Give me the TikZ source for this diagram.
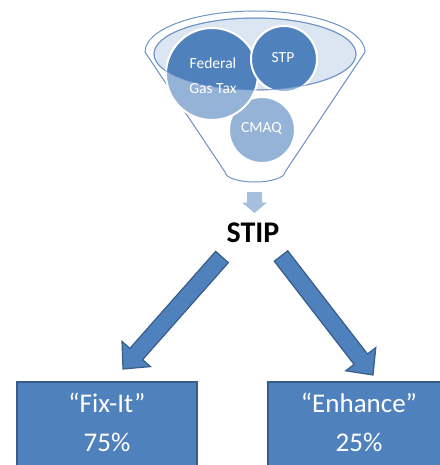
\documentclass[tikz,border=0pt]{standalone}
\usepackage{fontspec}
\setmainfont{Carlito}
\usetikzlibrary{calc}
\definecolor{dkblue}{HTML}{4F81BD}
\definecolor{ltblue}{HTML}{95B3D7}
\definecolor{paleblue}{HTML}{DCE6F2}
\definecolor{edgeblue}{HTML}{385D8A}
\definecolor{arrowlt}{HTML}{A7BFDE}
\definecolor{rimblue}{HTML}{6F93C6}
\tikzset{
  rimline/.style={draw=rimblue, line width=1pt},
  circlight/.style={fill=ltblue, draw=white, line width=2pt},
  circdark/.style={fill=dkblue, draw=white, line width=2pt},
  circtext/.style={text=white, font=\fontsize{15.5}{25}\selectfont, align=center, inner sep=0pt},
  bigarrow/.style={fill=dkblue, draw=edgeblue, line width=1.2pt, line join=miter},
  boxstyle/.style={fill=dkblue, draw=edgeblue, line width=2pt},
  boxtext/.style={text=white, font=\fontsize{27}{39}\selectfont, align=center, inner sep=0pt},
  stiptext/.style={font=\fontsize{30}{36}\selectfont\bfseries, inner sep=0pt}
}
\newcommand{\blockarrow}[2]{%
  \coordinate (h) at ($(#2)!20pt!(#1)$);
  \path[bigarrow] ($(#1)!8.5pt!90:(#2)$) -- ($(h)!8.5pt!90:(#2)$) -- ($(h)!19pt!90:(#2)$)
    -- (#2) -- ($(h)!19pt!-90:(#2)$) -- ($(h)!8.5pt!-90:(#2)$) -- ($(#1)!8.5pt!-90:(#2)$) -- cycle;
}
\begin{document}
\begin{tikzpicture}[x=1pt,y=-1pt]
\useasboundingbox (0,0) rectangle (439,465);
% funnel body
\path[fill=white, rimline] (145,52) arc[start angle=180, end angle=360, x radius=110, y radius=41]
  -- (285,172) arc[start angle=0, end angle=180, x radius=30, y radius=10] -- cycle;
% inner ellipse
\path[fill=paleblue, rimline] (255,54) ellipse[x radius=101, y radius=36];
% circle centres
\coordinate (cC) at (262,130);
\coordinate (cF) at (212,74);
\coordinate (cS) at (284,59);
% light pass
\path[circlight] (cC) circle[radius=33];
\path[circlight] (cF) circle[radius=46];
\path[circlight] (cS) circle[radius=33];
% dark pass inside the funnel mouth
\begin{scope}
  \clip (255,54) ellipse[x radius=101, y radius=36];
  \path[circdark] (cC) circle[radius=33];
  \path[circdark] (cF) circle[radius=46];
  \path[circdark] (cS) circle[radius=33];
\end{scope}
\draw[draw=rimblue, line width=0.8pt, opacity=0.7] (255,54) ellipse[x radius=101, y radius=36];
% circle labels
\node[circtext] (fed) at (213,75.5) {Federal\\Gas Tax};
\node[circtext] (stp) at (283,57.5) {STP};
\node[circtext] (cmaq) at (261.5,128) {CMAQ};
% small arrow
\coordinate (sa) at (254.5,192);
\fill[arrowlt] ($(sa)+(-7.5,0)$) -- ($(sa)+(7.5,0)$) -- ($(sa)+(7.5,10.5)$) -- ($(sa)+(12.5,10.5)$)
  -- ($(sa)+(0,21)$) -- ($(sa)+(-12.5,10.5)$) -- ($(sa)+(-7.5,10.5)$) -- cycle;
% STIP
\node[stiptext] (stip) at (253,233) {STIP};
% big arrows
\coordinate (L0) at (222,257);
\coordinate (L1) at (123,369);
\coordinate (R0) at (281,256);
\coordinate (R1) at (373,375);
\blockarrow{L0}{L1}
\blockarrow{R0}{R1}
% boxes
\path[boxstyle] (17,382) rectangle (197,480);
\path[boxstyle] (268,382) rectangle (450,480);
\node[boxtext] (fix) at (107,422.5) {“Fix-It”\\75\%};
\node[boxtext] (enh) at (359,422.5) {“Enhance”\\25\%};
\end{tikzpicture}
\end{document}
